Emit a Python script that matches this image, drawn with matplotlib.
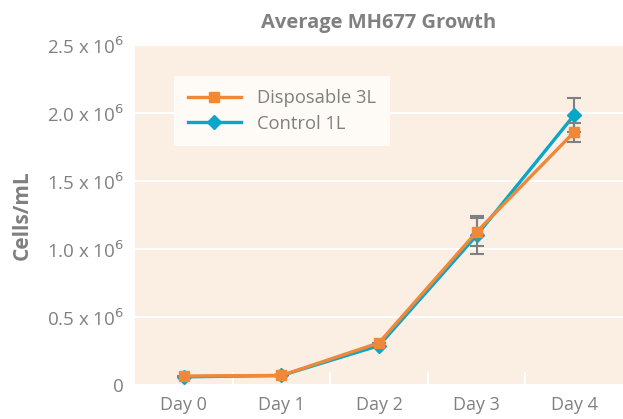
import matplotlib.pyplot as plt
from matplotlib.lines import Line2D
import numpy as np

plt.rcParams['font.family'] = ['Open Sans', 'DejaVu Sans']

days = ['Day 0', 'Day 1', 'Day 2', 'Day 3', 'Day 4']
disposable = [0.066e6, 0.07e6, 0.31e6, 1.125e6, 1.86e6]
disposable_err = [0, 0, 0, 0.10e6, 0.07e6]
control = [0.06e6, 0.07e6, 0.29e6, 1.10e6, 1.985e6]
control_err = [0, 0, 0, 0.14e6, 0.125e6]
yticks = [0, 0.5e6, 1.0e6, 1.5e6, 2.0e6, 2.5e6]
ytick_labels = ['0', r'0.5 x 10$^6$', r'1.0 x 10$^6$', r'1.5 x 10$^6$',
                r'2.0 x 10$^6$', r'2.5 x 10$^6$']

grey = '#808080'
orange = '#F0883A'
blue = '#0AA6C9'

fig = plt.figure(figsize=(6.23, 4.19), dpi=100)
ax = fig.add_axes([135 / 623, 1 - 385 / 419, 488 / 623, 340 / 419])
ax.set_facecolor('#FBEEE2')

x = np.arange(len(days))
ax.errorbar(x, control, yerr=control_err, color=blue, lw=2.4, marker='D',
            ms=7, ecolor=grey, elinewidth=1.5, capsize=5, capthick=1.5, zorder=3)
ax.errorbar(x, disposable, yerr=disposable_err, color=orange, lw=2.4, marker='s',
            ms=7, ecolor=grey, elinewidth=1.5, capsize=5, capthick=1.5, zorder=4)

# short white separators between the days
for b in np.arange(0.5, len(days) - 1, 1):
    ax.plot([b, b], [0, 0.035], color='white', lw=1.5,
            transform=ax.get_xaxis_transform(), zorder=1)

ax.set_xlim(-0.5, len(days) - 0.5)
ax.set_ylim(0, 2.5e6)
ax.set_yticks(yticks)
ax.set_yticklabels(ytick_labels, fontsize=13.5, color=grey)
ax.set_xticks(x)
ax.set_xticklabels(days, fontsize=13, color=grey)
ax.tick_params(axis='x', length=0, pad=8)
ax.tick_params(axis='y', length=0, pad=8)
ax.grid(axis='y', color='white', lw=1.5)
ax.set_axisbelow(True)
for s in ax.spines.values():
    s.set_visible(False)

ax.set_ylabel('Cells/mL', fontsize=15, fontweight='bold', color=grey, labelpad=10)
ax.set_title('Average MH677 Growth', fontsize=14.5, fontweight='bold', color=grey, pad=12)

handles = [Line2D([], [], color=orange, lw=2.4, marker='s', ms=7),
           Line2D([], [], color=blue, lw=2.4, marker='D', ms=7)]
leg = ax.legend(handles, ['Disposable 3L', 'Control 1L'], loc='upper left',
                bbox_to_anchor=(0.08, 0.91), borderaxespad=0, frameon=True,
                fancybox=False, fontsize=13.2, handlelength=2.9, borderpad=0.75,
                labelspacing=0.4, handletextpad=0.9)
leg.get_frame().set_facecolor('#FEFAF6')
leg.get_frame().set_edgecolor('none')
leg.get_frame().set_alpha(1)
for t in leg.get_texts():
    t.set_color(grey)

fig.savefig('out.png', dpi=100)
